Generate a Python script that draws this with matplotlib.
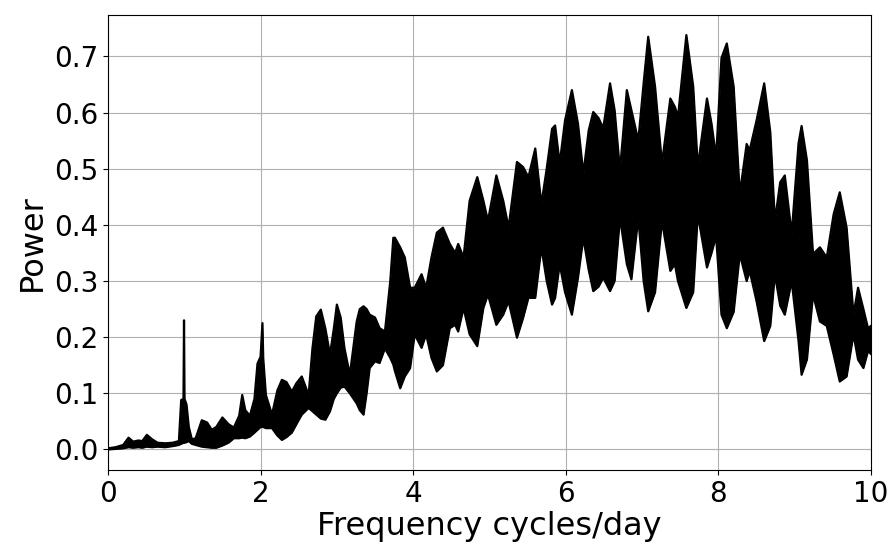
import matplotlib
matplotlib.use("Agg")
import matplotlib.pyplot as plt
import numpy as np

freq = [0.00, 0.10, 0.20, 0.27, 0.33, 0.40, 0.45, 0.51, 0.58, 0.65, 0.75, 0.85, 0.93,
        0.94, 0.96, 0.99, 0.997, 1.004, 1.03, 1.06, 1.10, 1.15, 1.23, 1.30, 1.36, 1.42,
        1.50, 1.58, 1.65, 1.72, 1.76, 1.80, 1.86, 1.92, 1.96, 2.00, 2.025, 2.035, 2.07,
        2.15, 2.22, 2.28, 2.34, 2.41, 2.47, 2.54, 2.63, 2.68, 2.73, 2.79, 2.85, 2.91,
        2.96, 3.00, 3.05, 3.10, 3.17, 3.26, 3.30, 3.35, 3.39, 3.43, 3.50, 3.56, 3.63,
        3.70, 3.74, 3.76, 3.83, 3.89, 3.96, 4.02, 4.11, 4.17, 4.24, 4.31, 4.39, 4.48,
        4.55, 4.59, 4.66, 4.74, 4.84, 4.92, 4.98, 5.09, 5.18, 5.25, 5.36, 5.44, 5.51,
        5.60, 5.68, 5.75, 5.82, 5.86, 5.92, 5.99, 6.08, 6.16, 6.23, 6.30, 6.36, 6.43,
        6.49, 6.58, 6.64, 6.71, 6.80, 6.86, 6.95, 7.02, 7.08, 7.17, 7.26, 7.37, 7.43,
        7.47, 7.58, 7.67, 7.73, 7.85, 7.91, 7.97, 8.04, 8.11, 8.20, 8.28, 8.37, 8.41,
        8.50, 8.60, 8.68, 8.74, 8.81, 8.87, 8.96, 9.05, 9.09, 9.16, 9.24, 9.33, 9.42,
        9.51, 9.59, 9.68, 9.77, 9.83, 9.90, 9.96, 10.0]

power_upper = [0.002, 0.004, 0.008, 0.021, 0.014, 0.016, 0.015, 0.026, 0.018, 0.012, 0.011, 0.012, 0.015,
               0.040, 0.088, 0.090, 0.230, 0.090, 0.080, 0.040, 0.018, 0.020, 0.052, 0.048, 0.035, 0.040,
               0.057, 0.045, 0.039, 0.060, 0.097, 0.070, 0.060, 0.090, 0.153, 0.165, 0.225, 0.163, 0.097,
               0.062, 0.105, 0.124, 0.120, 0.103, 0.118, 0.130, 0.097, 0.180, 0.237, 0.249, 0.215, 0.169,
               0.215, 0.258, 0.235, 0.180, 0.133, 0.228, 0.250, 0.255, 0.250, 0.240, 0.235, 0.216, 0.210,
               0.300, 0.377, 0.377, 0.360, 0.342, 0.288, 0.288, 0.312, 0.288, 0.342, 0.386, 0.395, 0.366,
               0.350, 0.366, 0.342, 0.443, 0.485, 0.443, 0.407, 0.488, 0.443, 0.395, 0.512, 0.503, 0.485,
               0.536, 0.437, 0.500, 0.571, 0.577, 0.509, 0.586, 0.640, 0.580, 0.491, 0.568, 0.601, 0.590,
               0.572, 0.652, 0.604, 0.497, 0.640, 0.604, 0.550, 0.652, 0.735, 0.646, 0.509, 0.625, 0.610,
               0.592, 0.738, 0.646, 0.503, 0.625, 0.580, 0.520, 0.697, 0.723, 0.646, 0.455, 0.544, 0.533,
               0.586, 0.652, 0.565, 0.407, 0.476, 0.488, 0.384, 0.545, 0.576, 0.515, 0.348, 0.360, 0.342,
               0.419, 0.458, 0.395, 0.240, 0.288, 0.250, 0.216, 0.220]

power_lower = [0.000, 0.001, 0.002, 0.004, 0.003, 0.004, 0.003, 0.005, 0.004, 0.005, 0.004, 0.006, 0.008,
               0.009, 0.010, 0.012, 0.012, 0.012, 0.013, 0.015, 0.010, 0.008, 0.005, 0.004, 0.003, 0.003,
               0.007, 0.012, 0.020, 0.020, 0.021, 0.020, 0.023, 0.030, 0.035, 0.040, 0.040, 0.040, 0.038,
               0.038, 0.025, 0.017, 0.022, 0.030, 0.045, 0.062, 0.074, 0.068, 0.062, 0.055, 0.053, 0.068,
               0.090, 0.100, 0.110, 0.112, 0.100, 0.082, 0.070, 0.062, 0.100, 0.145, 0.157, 0.154, 0.180,
               0.163, 0.151, 0.140, 0.109, 0.130, 0.145, 0.205, 0.181, 0.205, 0.163, 0.139, 0.150, 0.216,
               0.222, 0.210, 0.252, 0.205, 0.184, 0.252, 0.276, 0.222, 0.240, 0.264, 0.199, 0.234, 0.270,
               0.270, 0.360, 0.300, 0.258, 0.270, 0.330, 0.280, 0.240, 0.306, 0.377, 0.320, 0.282, 0.290,
               0.306, 0.282, 0.300, 0.413, 0.330, 0.303, 0.413, 0.300, 0.246, 0.280, 0.407, 0.318, 0.330,
               0.300, 0.252, 0.280, 0.419, 0.324, 0.350, 0.380, 0.240, 0.216, 0.245, 0.348, 0.300, 0.318,
               0.264, 0.193, 0.220, 0.312, 0.256, 0.240, 0.300, 0.193, 0.133, 0.160, 0.276, 0.228, 0.220,
               0.169, 0.121, 0.130, 0.205, 0.160, 0.145, 0.175, 0.170]

x_ticks = [0, 2, 4, 6, 8, 10]
y_ticks = [0.0, 0.1, 0.2, 0.3, 0.4, 0.5, 0.6, 0.7]

fig = plt.figure(figsize=(8.92, 5.5), dpi=100)
ax = fig.add_axes([0.121, 0.145, 0.8555, 0.828])

ax.fill_between(freq, power_lower, power_upper, color='black', linewidth=0, zorder=2)
ax.plot(freq, power_upper, color='black', linewidth=1.6, zorder=2.1)
ax.plot(freq, power_lower, color='black', linewidth=1.6, zorder=2.1)

ax.set_xlim(0, 10)
ax.set_ylim(-0.037, 0.774)
ax.set_xticks(x_ticks)
ax.set_xticklabels([str(t) for t in x_ticks])
ax.set_yticks(y_ticks)
ax.set_yticklabels([f"{t:.1f}" for t in y_ticks])
ax.tick_params(labelsize=20)
ax.grid(True, color='#b0b0b0', linewidth=0.8)
ax.set_axisbelow(True)
ax.set_xlabel('Frequency cycles/day', fontsize=23, labelpad=2)
ax.set_ylabel('Power', fontsize=23, labelpad=4)

fig.savefig('out.png', dpi=100)
